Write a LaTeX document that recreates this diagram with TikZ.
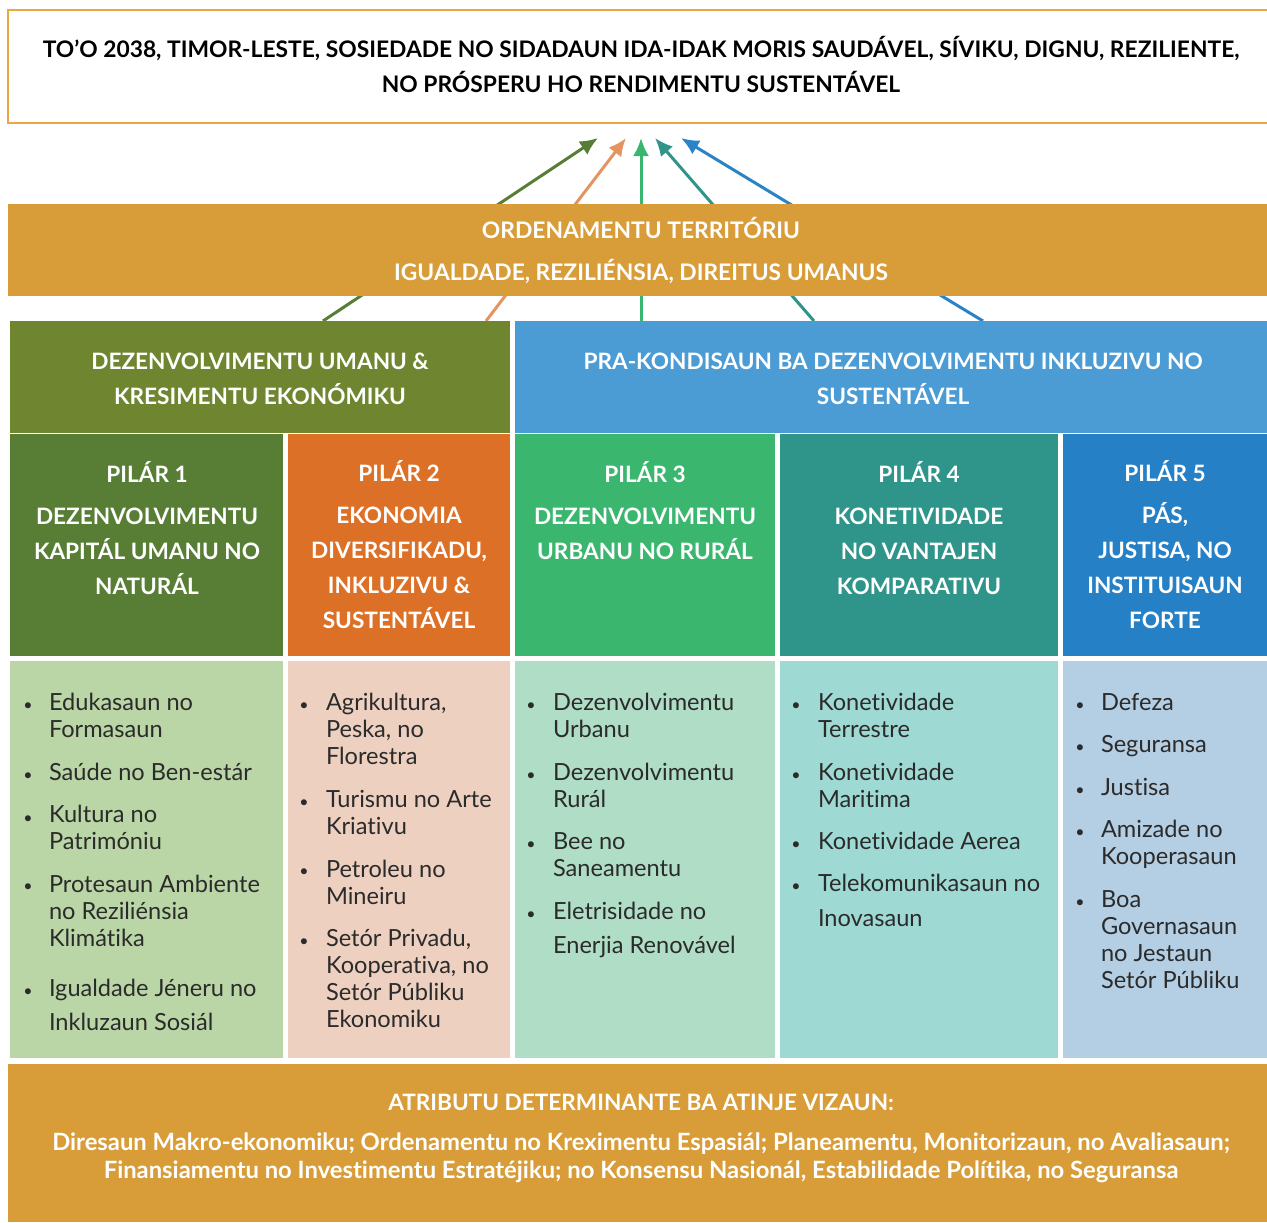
\documentclass[tikz,border=0pt]{standalone}
\usepackage{fontspec}
\setmainfont{Lato}[Ligatures=NoCommon]
\usepackage{tikz}
\usetikzlibrary{arrows.meta}

\definecolor{bandgold}{HTML}{D89D39}
\definecolor{visionline}{HTML}{EBA645}
\definecolor{secleft}{HTML}{6F8530}
\definecolor{secright}{HTML}{4B9BD5}
\definecolor{pone}{HTML}{587E36}
\definecolor{ptwo}{HTML}{DD7027}
\definecolor{pthree}{HTML}{3BB66F}
\definecolor{pfour}{HTML}{2F958A}
\definecolor{pfive}{HTML}{2580C5}
\definecolor{lone}{HTML}{BAD5A6}
\definecolor{ltwo}{HTML}{EDD0C0}
\definecolor{lthree}{HTML}{AFDDC5}
\definecolor{lfour}{HTML}{9FD9D4}
\definecolor{lfive}{HTML}{B4CEE3}
\definecolor{arrtwo}{HTML}{E49460}
\definecolor{arrfive}{HTML}{2A83C7}
\definecolor{bodytext}{HTML}{2B2B2B}

\begin{document}
\begin{tikzpicture}[x=0.5pt, y=-0.5pt]
        \tikzset{every node/.style={inner sep=0, outer sep=0}}
        % base anchor = baseline of the last line
        \tikzset{headtext/.style={anchor=base, align=center, text=white, font=\bfseries\fontsize{11.3}{17.5}\selectfont}}
        \tikzset{itemtext/.style={anchor=base west, align=left, text=bodytext, font=\fontsize{11.8}{13.5}\selectfont}}
        \tikzset{dot/.style={anchor=base, text=bodytext, font=\fontsize{8}{8}\selectfont}}
        \tikzset{pilarrow/.style={-{Latex[length=9pt, width=8pt]}, line width=1.5pt}}
        \useasboundingbox (0,0) rectangle (1267,1222);

        % vision
        \draw[visionline, fill=white, line width=0.6pt] (8,10) rectangle (1270,123);
        \node[anchor=base, align=center, font=\bfseries\fontsize{11.4}{17.5}\selectfont] (vision) at (641,92)
            {TO'O 2038, TIMOR-LESTE, SOSIEDADE NO SIDADAUN IDA-IDAK MORIS SAUDÁVEL, SÍVIKU, DIGNU, REZILIENTE,\\NO PRÓSPERU HO RENDIMENTU SUSTENTÁVEL};

        % arrows from the pillars to the vision
        \coordinate (s1) at (323,321);  \coordinate (t1) at (598,138);
        \coordinate (s2) at (486,321);  \coordinate (t2) at (626,138);
        \coordinate (s3) at (641,321);  \coordinate (t3) at (641,138);
        \coordinate (s4) at (814,321);  \coordinate (t4) at (655,138);
        \coordinate (s5) at (983,321);  \coordinate (t5) at (681,138);
        \draw[pilarrow, pone] (s1) -- (t1);
        \draw[pilarrow, arrtwo] (s2) -- (t2);
        \draw[pilarrow, pthree] (s3) -- (t3);
        \draw[pilarrow, pfour] (s4) -- (t4);
        \draw[pilarrow, arrfive] (s5) -- (t5);

        % territorial band
        \fill[bandgold] (8,204) rectangle (1267,296);
        \node[headtext, font=\bfseries\fontsize{11.4}{21}\selectfont] (band) at (641,280)
            {ORDENAMENTU TERRITÓRIU\\IGUALDADE, REZILIÉNSIA, DIREITUS UMANUS};

        % two sections
        \fill[secleft] (10,321) rectangle (510,433);
        \fill[secright] (515,321) rectangle (1267,433);
        \node[headtext] (secl) at (260,404) {DEZENVOLVIMENTU UMANU \&\\KRESIMENTU EKONÓMIKU};
        \node[headtext] (secr) at (893,404) {PRA-KONDISAUN BA DEZENVOLVIMENTU INKLUZIVU NO\\SUSTENTÁVEL};

        % pillar heads
        \fill[pone] (10,434) rectangle (283,656);
        \fill[ptwo] (288,434) rectangle (510,656);
        \fill[pthree] (515,434) rectangle (775,656);
        \fill[pfour] (780,434) rectangle (1058,656);
        \fill[pfive] (1063,434) rectangle (1267,656);
        \node[headtext] (h1) at (147,594) {PILÁR 1\\[3.5pt]DEZENVOLVIMENTU\\KAPITÁL UMANU NO\\NATURÁL};
        \node[headtext] (h2) at (399,628) {PILÁR 2\\[3.5pt]EKONOMIA\\DIVERSIFIKADU,\\INKLUZIVU \&\\SUSTENTÁVEL};
        \node[headtext] (h3) at (645,559) {PILÁR 3\\[3.5pt]DEZENVOLVIMENTU\\URBANU NO RURÁL};
        \node[headtext] (h4) at (919,594) {PILÁR 4\\[3.5pt]KONETIVIDADE\\NO VANTAJEN\\KOMPARATIVU};
        \node[headtext] (h5) at (1165,628) {PILÁR 5\\[3.5pt]PÁS,\\JUSTISA, NO\\INSTITUISAUN\\FORTE};

        % pillar contents
        \fill[lone] (10,661) rectangle (283,1058);
        \fill[ltwo] (288,661) rectangle (510,1058);
        \fill[lthree] (515,661) rectangle (775,1058);
        \fill[lfour] (780,661) rectangle (1058,1058);
        \fill[lfive] (1063,661) rectangle (1267,1058);
        \foreach \y/\ly/\txt [count=\i] in {710/737/{Edukasaun no\\Formasaun}, 780/780/{Saúde no Ben-estár},
            823/849/{Kultura no\\Patrimóniu}, 891/946/{Protesaun Ambiente\\no Reziliénsia\\Klimátika},
            996/1030/{Igualdade Jéneru no\\[3.5pt]Inkluzaun Sosiál}}
            {\node[dot] (d1\i) at (28,\y) {\textbullet}; \node[itemtext] (i1\i) at (49,\ly) {\txt};}
        \foreach \y/\ly/\txt [count=\i] in {710/764/{Agrikultura,\\Peska, no\\Florestra}, 807/834/{Turismu no Arte\\Kriativu},
            876/904/{Petroleu no\\Mineiru}, 946/1027/{Setór Privadu,\\Kooperativa, no\\Setór Públiku\\Ekonomiku}}
            {\node[dot] (d2\i) at (304,\y) {\textbullet}; \node[itemtext] (i2\i) at (326,\ly) {\txt};}
        \foreach \y/\ly/\txt [count=\i] in {710/737/{Dezenvolvimentu\\Urbanu}, 780/807/{Dezenvolvimentu\\Rurál},
            849/876/{Bee no\\Saneamentu}, 919/953/{Eletrisidade no\\[3.5pt]Enerjia Renovável}}
            {\node[dot] (d3\i) at (531,\y) {\textbullet}; \node[itemtext] (i3\i) at (553,\ly) {\txt};}
        \foreach \y/\ly/\txt [count=\i] in {710/737/{Konetividade\\Terrestre}, 780/807/{Konetividade\\Maritima},
            849/849/{Konetividade Aerea}, 891/926/{Telekomunikasaun no\\[4pt]Inovasaun}}
            {\node[dot] (d4\i) at (796,\y) {\textbullet}; \node[itemtext] (i4\i) at (818,\ly) {\txt};}
        \foreach \y/\ly/\txt [count=\i] in {710/710/{Defeza}, 752/752/{Seguransa}, 795/795/{Justisa},
            837/864/{Amizade no\\Kooperasaun}, 907/988/{Boa\\Governasaun\\no Jestaun\\Setór Públiku}}
            {\node[dot] (d5\i) at (1080,\y) {\textbullet}; \node[itemtext] (i5\i) at (1101,\ly) {\txt};}

        % enablers
        \fill[bandgold] (8,1064) rectangle (1267,1222);
        \node[headtext] (attr) at (641,1110) {ATRIBUTU DETERMINANTE BA ATINJE VIZAUN:};
        \node[headtext, font=\bfseries\fontsize{11.9}{14}\selectfont] (attrlist) at (641,1178)
            {Diresaun Makro-ekonomiku; Ordenamentu no Kreximentu Espasiál; Planeamentu, Monitorizaun, no Avaliasaun;\\Finansiamentu no Investimentu Estratéjiku; no Konsensu Nasionál, Estabilidade Polítika, no Seguransa};
      \end{tikzpicture}
\end{document}
